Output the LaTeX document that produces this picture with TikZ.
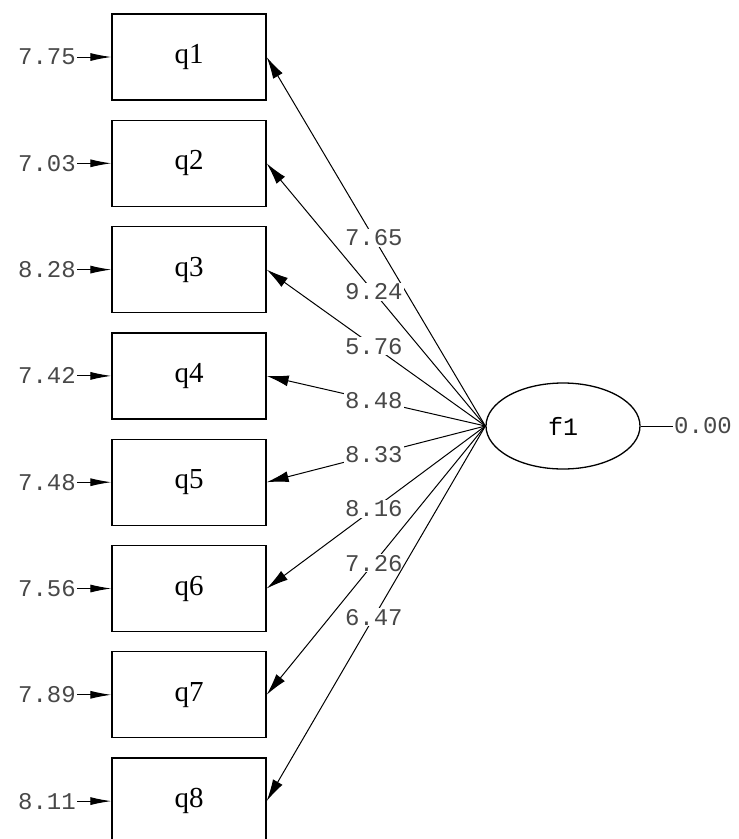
\documentclass[tikz,border=0pt]{standalone}
\usepackage{fontspec}
\usepackage{tikz}
\usetikzlibrary{arrows.meta,positioning,shapes.geometric}
\newfontfamily\estfont{Liberation Mono}
\newfontfamily\varfont{Liberation Serif}
\definecolor{estGray}{RGB}{72,72,72}

\begin{document}
\begin{tikzpicture}[x=1pt,y=-1pt,
  obsbox/.style={draw, line width=1.3pt, minimum width=154pt, minimum height=86pt,
    inner sep=0pt, font=\varfont\fontsize{29}{29}\selectfont},
  latent/.style={ellipse, draw, line width=1.3pt, minimum width=154pt, minimum height=86pt,
    inner sep=0pt, font=\estfont\fontsize{25}{25}\selectfont},
  est/.style={font=\estfont\fontsize{24}{24}\selectfont, text=estGray, inner sep=1pt},
  load/.style={line width=1pt, -{Latex[length=22pt,width=11pt]}},
  err/.style={line width=1pt, -{Latex[length=21pt,width=8pt]}}]
\useasboundingbox (0,0) rectangle (739,839);
\fill[white] (0,0) rectangle (739,839);

\node[latent] (f1) at (563,426) {f1};
\node[est, anchor=west] (v1) at (673,426) {0.00};
\draw[line width=1pt] (f1.east) -- (v1);

% indicators with error variances
\foreach \i/\e in {1/7.75, 2/7.03, 3/8.28, 4/7.42, 5/7.48, 6/7.56, 7/7.89, 8/8.11}{
  \node[obsbox] (q\i) at (189,{57+106.3*(\i-1)}) {q\i};
  \node[est, anchor=east] (e\i) at (77,{57+106.3*(\i-1)}) {\e};
  \draw[err] (e\i) -- (q\i);
}
% loadings
\foreach \i/\l in {1/7.65, 2/9.24, 3/5.76, 4/8.48, 5/8.33, 6/8.16, 7/7.26, 8/6.47}{
  \draw[load] (f1.west) -- node[est, fill=white, pos=0.51] {\l} (q\i.east);
}
\end{tikzpicture}
\end{document}
